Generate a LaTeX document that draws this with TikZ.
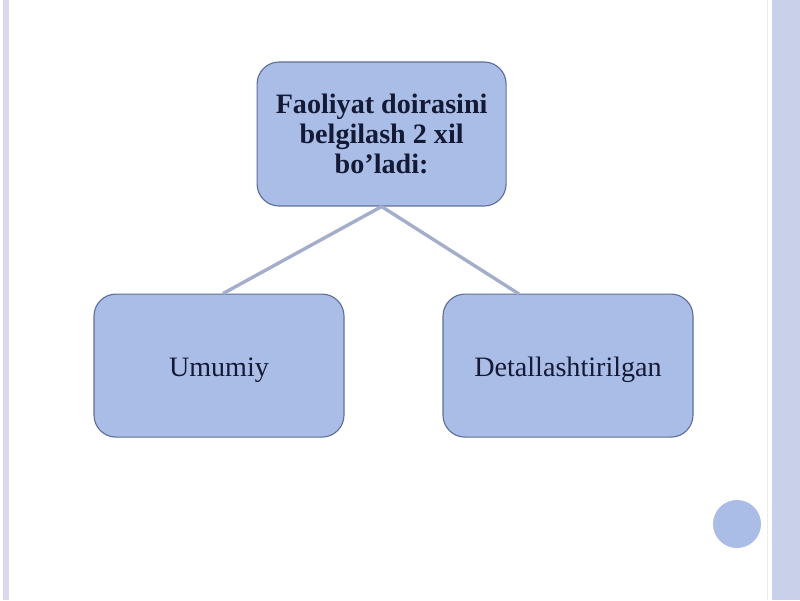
\documentclass[tikz,border=0pt]{standalone}
\usepackage{fontspec}
\setmainfont{Liberation Serif}
\definecolor{boxfill}{HTML}{AABDE6}
\definecolor{boxline}{HTML}{5F6F98}
\definecolor{linkline}{HTML}{A3AECB}
\definecolor{boxtext}{HTML}{141A36}
\definecolor{sidebar}{HTML}{C9D1EA}
\definecolor{leftbar}{HTML}{DCD8EC}
\tikzset{
  turbox/.style={draw=boxline, line width=0.8pt, fill=boxfill, rounded corners=0.55cm,
    text=boxtext, align=center, font=\fontsize{20}{21.5}\selectfont},
  link/.style={draw=linkline, line width=2.4pt}
}
\begin{document}
\begin{tikzpicture}
      % slayd foni va chegaralari
      \useasboundingbox (0,0) rectangle (20,15);
      \fill[white] (0,0) rectangle (20,15);
      \fill[leftbar] (0.075,0) rectangle (0.225,15);
      \fill[sidebar] (19.3,0) rectangle (20,15);
      \draw[gray!15, line width=0.6pt] (19.18,0) -- (19.18,15);
      \fill[boxfill] (18.425,1.9) circle (0.6);
      % bloklar
      \node[turbox, minimum width=6.225cm, minimum height=3.6cm, font=\bfseries\fontsize{20}{21.5}\selectfont] (top) at (9.54,11.65)
        {Faoliyat doirasini\\belgilash 2 xil\\bo’ladi:};
      \node[turbox, minimum width=6.25cm, minimum height=3.575cm, text height=20pt, text depth=4.5pt] (umumiy) at (5.475,5.86) {Umumiy};
      \node[turbox, minimum width=6.25cm, minimum height=3.575cm, text height=20pt, text depth=4.5pt] (detal) at (14.2,5.86) {Detallashtirilgan};
      % bog'lovchi chiziqlar
      \coordinate (detalEnd) at (12.975,7.65);
      \draw[link] (top.south) -- ([xshift=0.1cm]umumiy.north);
      \draw[link] (top.south) -- (detalEnd);
\end{tikzpicture}
\end{document}
